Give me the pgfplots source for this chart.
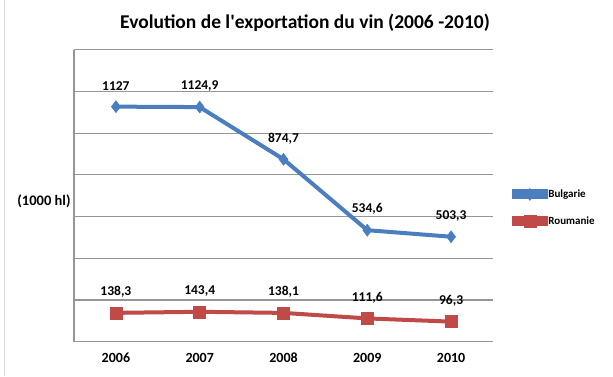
\documentclass[border=0pt]{standalone}
\usepackage{fontspec}
\setmainfont{Carlito}
\usepackage{pgfplots}
\pgfplotsset{compat=1.18}
\definecolor{bblue}{RGB}{74,126,190}
\definecolor{rred}{RGB}{192,74,72}
\definecolor{gridc}{RGB}{150,150,150}
\begin{document}
\begin{tikzpicture}[x=1pt,y=1pt]
\useasboundingbox (0,0) rectangle (613,376);
\fill[white] (0,0) rectangle (613,376);
\draw[gray!25, line width=1pt] (4,0) -- (4,376);
\node[font=\fontsize{19.5}{22}\selectfont\bfseries] at (305,353) {Evolution de l\textquotesingle exportation du vin (2006 -2010)};
\node[font=\fontsize{14.5}{16}\selectfont\bfseries] at (44,174.3) {(1000 hl)};
\begin{axis}[
  at={(74pt,34.3pt)}, anchor=south west,
  scale only axis, width=419pt, height=292pt,
  xmin=-0.5, xmax=4.5, ymin=0, ymax=1400,
  xtick={0,1,2,3,4}, xticklabels={2006,2007,2008,2009,2010},
  ytick={0,200,...,1400}, yticklabels={},
  major tick length=0pt,
  ymajorgrids, grid style={gridc, line width=1.1pt},
  axis x line*=bottom, axis y line*=left,
  axis line style={gridc, line width=1.1pt},
  xticklabel style={font=\fontsize{14}{16}\selectfont\bfseries, yshift=-8pt},
  clip=false,
  point meta=explicit symbolic,
  nodes near coords,
  nodes near coords style={font=\fontsize{13.5}{16}\selectfont\bfseries, text=black, anchor=center, yshift=21pt},
  legend style={at={(1.045,0.458)}, anchor=west, draw=none, fill=none,
    font=\fontsize{11}{12}\selectfont\bfseries, row sep=15pt,
    inner sep=0pt, outer sep=0pt, nodes={inner sep=0.5pt}},
  legend cell align=left,
  legend image code/.code={\draw[mark repeat=2,mark phase=2,#1] plot coordinates {(0pt,0pt) (16pt,0pt) (32pt,0pt)};\path (0pt,-3pt) rectangle (32pt,3pt);},
]
\addplot[bblue, line width=4pt, mark=diamond*, mark size=6pt, mark options={solid, line width=0.5pt}]
  coordinates {(0,1127) [1127] (1,1124.9) [{1124,9}] (2,874.7) [{874,7}] (3,534.6) [{534,6}] (4,503.3) [{503,3}]};
\addlegendentry{Bulgarie}
\addplot[rred, line width=4pt, mark=square*, mark size=6pt, mark options={solid, line width=0.5pt}]
  coordinates {(0,138.3) [{138,3}] (1,143.4) [{143,4}] (2,138.1) [{138,1}] (3,111.6) [{111,6}] (4,96.3) [{96,3}]};
\addlegendentry{Roumanie}
\end{axis}
\end{tikzpicture}
\end{document}
